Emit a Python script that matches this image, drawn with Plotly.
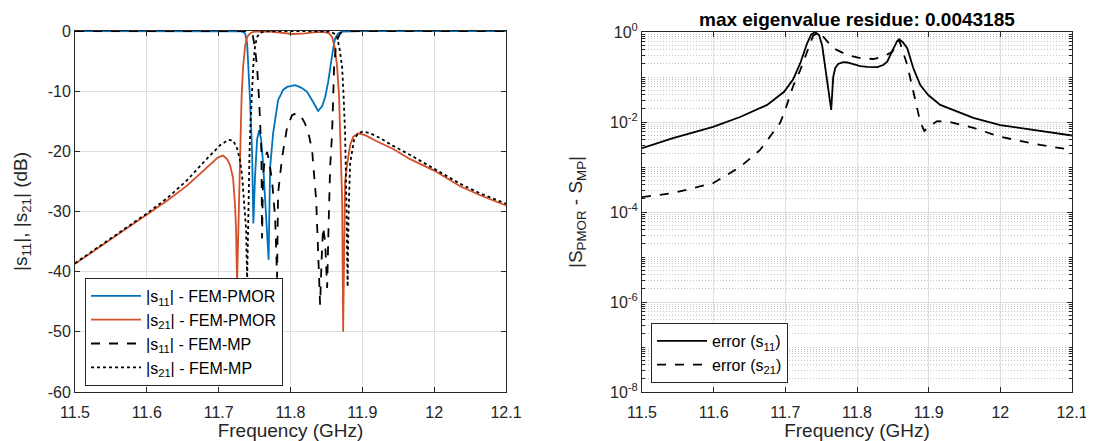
import plotly.graph_objects as go

# ---------------- Left panel: |S| in dB ----------------
f_s11_pmor = [11.5, 11.70, 11.7298, 11.7340, 11.7368, 11.7396, 11.7416, 11.7437, 11.7465, 11.7483,
              11.7507, 11.7535, 11.7563, 11.7591, 11.7618, 11.7646, 11.7674, 11.7695, 11.7716, 11.7758,
              11.7827, 11.7897, 11.7953, 11.8064, 11.8148, 11.8231, 11.8315, 11.8384, 11.8440, 11.8482,
              11.8524, 11.8552, 11.8593, 11.8621, 11.8663, 11.8719, 11.90, 12.1]
s11_pmor_db = [0, 0, -0.05, -0.15, -0.4, -2.0, -6.0, -11.5, -20, -32,
               -24, -18, -16.5, -18, -22, -28, -32, -38, -22.7, -17,
               -11.5, -9.8, -9.3, -9.0, -9.4, -10.1, -11.8, -13.3, -12.5, -11,
               -8.5, -6, -3, -1.2, -0.4, -0.1, 0, 0]

f_s21_pmor = [11.5, 11.5501, 11.6003, 11.6281, 11.6560, 11.6838, 11.6992, 11.7061, 11.7117, 11.7159,
              11.7201, 11.7228, 11.7242, 11.7256, 11.7277, 11.7298, 11.7319, 11.7340, 11.7368, 11.7396,
              11.7437, 11.7479, 11.7577, 11.7716, 11.7855, 11.8036, 11.8203, 11.8343, 11.8482, 11.8538,
              11.8579, 11.8621, 11.8649, 11.8677, 11.8691, 11.8719, 11.8733, 11.8747, 11.8760, 11.8788,
              11.8830, 11.8872, 11.8942, 11.9039, 11.9178, 11.9429, 11.9666, 12.0, 12.0362, 12.0641, 12.1]
s21_pmor_db = [-38.7, -34.6, -30.5, -28.2, -25.7, -22.6, -21.0, -20.7, -21.3, -22.3,
               -24.5, -29, -33, -42, -30, -18.2, -11, -6, -2.5, -1,
               -0.4, -0.15, -0.05, -0.1, -0.3, -0.5, -0.4, -0.2, -0.2, -0.4,
               -1, -3, -6, -11, -17, -28, -50, -30, -25, -22.2,
               -19, -17.6, -17.0, -17.3, -18.2, -19.6, -21.3, -23.2, -25.8, -27.3, -29.0]

f_s11_mp = [11.5, 11.74, 11.7465, 11.7479, 11.7507, 11.7535, 11.7563, 11.7584, 11.7595, 11.7604,
            11.7618, 11.7646, 11.7674, 11.7702, 11.7744, 11.7786, 11.7813, 11.7827, 11.7855, 11.7883,
            11.7925, 11.7953, 11.8022, 11.8092, 11.8148, 11.8203, 11.8259, 11.8301, 11.8329, 11.8357,
            11.8384, 11.8412, 11.8433, 11.8454, 11.8482, 11.8510, 11.8531, 11.8552, 11.8579, 11.8593,
            11.8607, 11.8628, 11.8649, 11.8691, 11.8733, 11.88, 12.1]
s11_mp_db = [0, 0, -0.3, -1, -3, -6, -11.5, -16, -20, -34.5,
             -24, -21, -20.1, -21.5, -25, -31, -41, -27, -23.5, -21,
             -18, -16, -14, -13.6, -14.2, -15.4, -17.5, -19.8, -24, -28,
             -36.5, -45.5, -38, -32.6, -35, -42.7, -32, -22.6, -17, -11,
             -6, -3, -1.5, -0.4, -0.1, 0, 0]

f_s21_mp = [11.5, 11.5501, 11.6003, 11.6281, 11.6560, 11.6838, 11.7019, 11.7131, 11.7201, 11.7256,
            11.7298, 11.7326, 11.7354, 11.7382, 11.7396, 11.7409, 11.7430, 11.7444, 11.7465, 11.7486,
            11.7507, 11.7535, 11.7577, 11.7646, 11.8134, 11.8552, 11.8621, 11.8649, 11.8684, 11.8719,
            11.8740, 11.8760, 11.8778, 11.8795, 11.8809, 11.8830, 11.8886, 11.8942, 11.9011, 11.9109,
            11.9248, 11.9429, 11.9666, 12.0, 12.0362, 12.0641, 12.1]
s21_mp_db = [-38.6, -34.5, -30.3, -27.8, -24.8, -21.2, -19.0, -18.1, -18.2, -19.5,
             -21.5, -24, -28, -33, -41.5, -30, -20, -15, -9, -5,
             -2.5, -1, -0.3, -0.05, 0, -0.1, -0.5, -1, -3, -6,
             -11, -17, -28, -42.5, -30, -22, -18, -17, -16.7, -17.0,
             -17.8, -19.1, -20.6, -22.9, -25.4, -27.0, -28.7]

# ---------------- Right panel: error magnitude ----------------
f_err11 = [11.5, 11.5433, 11.5992, 11.6369, 11.6746, 11.6983, 11.7109, 11.7207, 11.7304, 11.7360,
           11.7416, 11.7472, 11.7514, 11.7556, 11.7598, 11.7640, 11.7668, 11.7696, 11.7737, 11.7807,
           11.7863, 11.7947, 11.8045, 11.8142, 11.8282, 11.8366, 11.8422, 11.8506, 11.8561, 11.8589,
           11.8645, 11.8701, 11.8785, 11.8883, 11.8994, 11.9162, 11.9623, 12.0, 12.0559, 12.1]
err11 = [2.63e-3, 4.37e-3, 7.76e-3, 1.29e-2, 2.40e-2, 4.7e-2, 8.9e-2, 0.20, 0.56, 0.87,
         1.0, 0.85, 0.50, 0.166, 0.0437, 0.0186, 0.10, 0.158, 0.195, 0.214,
         0.21, 0.19, 0.175, 0.168, 0.165, 0.185, 0.22, 0.42, 0.63, 0.69,
         0.58, 0.437, 0.158, 0.0661, 0.0398, 0.0240, 0.0123, 0.00851, 0.00631, 0.00501]

f_err21 = [11.5, 11.5433, 11.5992, 11.6369, 11.6648, 11.6927, 11.6983, 11.7109, 11.7207, 11.7318,
           11.7388, 11.7472, 11.7528, 11.7584, 11.7668, 11.7863, 11.8045, 11.8226, 11.8366, 11.8492,
           11.8561, 11.8589, 11.8701, 11.8785, 11.8883, 11.8939, 11.9022, 11.9120, 11.9302, 11.9623,
           12.0, 12.0559, 12.1]
err21 = [2.14e-4, 2.63e-4, 4.37e-4, 1.0e-3, 2.40e-3, 9.55e-3, 0.0158, 0.063, 0.141, 0.40,
         0.83, 1.0, 0.79, 0.60, 0.437, 0.309, 0.263, 0.251, 0.282, 0.363,
         0.575, 0.66, 0.186, 0.0468, 0.0100, 0.0063, 0.0083, 0.0105, 0.0100, 0.0074,
         0.00468, 0.00309, 0.0024]

x_ticks = [11.5, 11.6, 11.7, 11.8, 11.9, 12.0, 12.1]
x_ticklabels = ["11.5", "11.6", "11.7", "11.8", "11.9", "12", "12.1"]
left_yticks = [-60, -50, -40, -30, -20, -10, 0]
left_yticklabels = ["-60", "-50", "-40", "-30", "-20", "-10", "0"]
right_yticks = [1e-8, 1e-6, 1e-4, 1e-2, 1]
right_yticklabels = ["10<sup>-8</sup>", "10<sup>-6</sup>", "10<sup>-4</sup>", "10<sup>-2</sup>", "10<sup>0</sup>"]
title_text = "max eigenvalue residue: 0.0043185"

BLUE = "#0072BD"
RED = "#D4502A"
AX = "#262626"
GRID = "#dfdfdf"
MINGRID = "#c4c4c4"
FONT = "Liberation Sans, Arial, Helvetica, sans-serif"

# the page body has an 8px margin; size the figure so it fills the 1094x441 window
OFF = 8
W, H = 1094 - OFF, 441 - OFF

fig = go.Figure()
fig.add_trace(go.Scatter(x=f_s11_pmor, y=s11_pmor_db, mode="lines", line=dict(color=BLUE, width=1.8),
                         name="|s<sub>11</sub>| - FEM-PMOR", xaxis="x", yaxis="y", legend="legend"))
fig.add_trace(go.Scatter(x=f_s21_pmor, y=s21_pmor_db, mode="lines", line=dict(color=RED, width=1.8),
                         name="|s<sub>21</sub>| - FEM-PMOR", xaxis="x", yaxis="y", legend="legend"))
fig.add_trace(go.Scatter(x=f_s11_mp, y=s11_mp_db, mode="lines", line=dict(color="black", width=1.8, dash="dash"),
                         name="|s<sub>11</sub>| - FEM-MP", xaxis="x", yaxis="y", legend="legend"))
fig.add_trace(go.Scatter(x=f_s21_mp, y=s21_mp_db, mode="lines", line=dict(color="black", width=1.8, dash="dot"),
                         name="|s<sub>21</sub>| - FEM-MP", xaxis="x", yaxis="y", legend="legend"))
fig.add_trace(go.Scatter(x=f_err11, y=err11, mode="lines", line=dict(color="black", width=1.8),
                         name="error (s<sub>11</sub>)", xaxis="x2", yaxis="y2", legend="legend2"))
fig.add_trace(go.Scatter(x=f_err21, y=err21, mode="lines", line=dict(color="black", width=1.8, dash="dash"),
                         name="error (s<sub>21</sub>)", xaxis="x2", yaxis="y2", legend="legend2"))

def px(x):
    return (x - OFF) / W

def py(y):
    return 1 - (y - OFF) / H

axis_common = dict(showline=True, linecolor=AX, linewidth=1, mirror="allticks", ticks="inside",
                   ticklen=5, tickcolor=AX, tickfont=dict(family=FONT, size=16, color=AX),
                   showgrid=True, gridcolor=GRID, gridwidth=1, zeroline=False, automargin=False)

minor_vals = [k * 10.0 ** e for e in range(-8, 0) for k in range(1, 10) if not (k == 1 and e % 2 == 0)]

fig.update_layout(
    width=W, height=H, margin=dict(l=0, r=0, t=0, b=0, autoexpand=False),
    paper_bgcolor="white", plot_bgcolor="white",
    font=dict(family=FONT, color=AX),
    xaxis=dict(domain=[px(75), px(506)], range=[11.5, 12.1], tickvals=x_ticks, ticktext=x_ticklabels,
               ticklabelstandoff=6,
               title=dict(text="Frequency (GHz)", font=dict(size=19, color=AX), standoff=16),
               anchor="y", **axis_common),
    yaxis=dict(domain=[py(392), py(31)], range=[-60, 0], tickvals=left_yticks, ticktext=left_yticklabels,
               title=dict(text="|s<sub>11</sub>|, |s<sub>21</sub>| (dB)", font=dict(size=19, color=AX), standoff=15),
               anchor="x", **axis_common),
    xaxis2=dict(domain=[px(642), px(1072)], range=[11.5, 12.1], tickvals=x_ticks, ticktext=x_ticklabels,
                ticklabelstandoff=6,
                title=dict(text="Frequency (GHz)", font=dict(size=19, color=AX), standoff=16),
                anchor="y2", **axis_common),
    yaxis2=dict(domain=[py(392), py(32)], type="log", range=[-8, 0], tickvals=right_yticks,
                ticktext=right_yticklabels,
                title=dict(text="|S<sub>PMOR</sub> - S<sub>MP</sub>|", font=dict(size=19, color=AX), standoff=22),
                minor=dict(tickvals=minor_vals, ticks="inside", ticklen=3, tickcolor=AX,
                           showgrid=True, gridcolor=MINGRID, griddash="1px,2px", gridwidth=1),
                anchor="x2", **axis_common),
    legend=dict(x=px(85), y=py(386), xanchor="left", yanchor="bottom", bgcolor="white",
                bordercolor=AX, borderwidth=1, font=dict(family=FONT, size=16, color="black"),
                tracegroupgap=0, itemwidth=50),
    legend2=dict(x=px(651), y=py(383), xanchor="left", yanchor="bottom", bgcolor="white",
                 bordercolor=AX, borderwidth=1, font=dict(family=FONT, size=16, color="black"),
                 tracegroupgap=0, itemwidth=50),
    annotations=[dict(text="<b>" + title_text + "</b>", x=(px(642) + px(1072)) / 2, y=py(19.5),
                      xref="paper", yref="paper", showarrow=False, xanchor="center", yanchor="middle",
                      font=dict(family=FONT, size=19, color="black"))],
    showlegend=True,
)

fig.write_html("out.html")
